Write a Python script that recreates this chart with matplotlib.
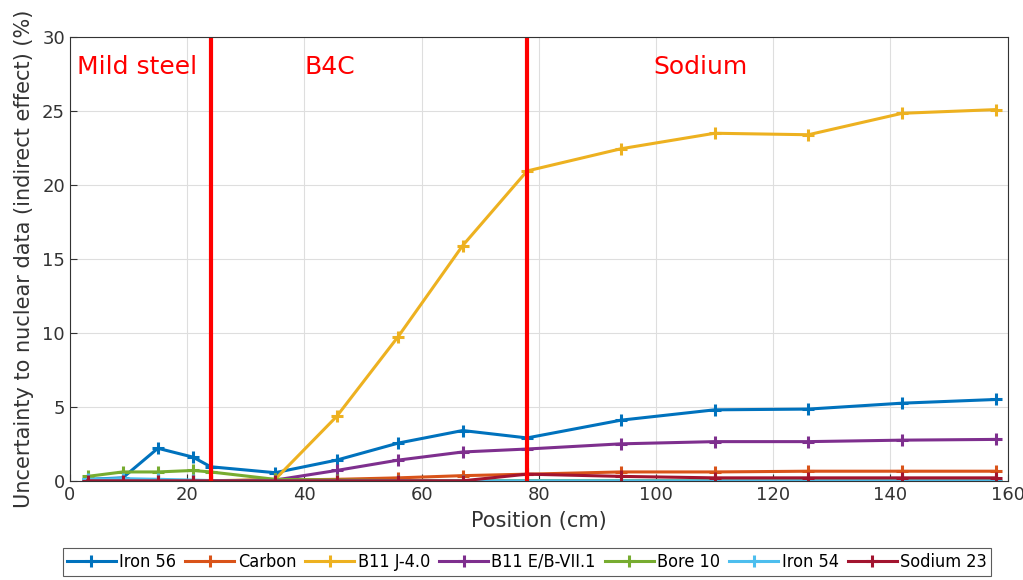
import matplotlib.pyplot as plt

position = [3, 9, 15, 21, 24, 35, 45.5, 56, 67, 78, 94, 110, 126, 142, 158]

iron56 = [0.1, 0.2, 2.2, 1.6, 0.95, 0.55, 1.4, 2.55, 3.4, 2.9, 4.1, 4.8, 4.85, 5.25, 5.5]
carbon = [0.0, 0.0, 0.0, 0.0, 0.0, 0.05, 0.1, 0.2, 0.35, 0.45, 0.6, 0.6, 0.65, 0.65, 0.65]
b11_j40 = [0.0, 0.0, 0.0, 0.0, 0.0, 0.1, 4.35, 9.75, 15.9, 20.95, 22.45, 23.5, 23.4, 24.85, 25.1]
b11_endf = [0.0, 0.0, 0.0, 0.0, 0.0, 0.05, 0.7, 1.4, 1.95, 2.15, 2.5, 2.65, 2.65, 2.75, 2.8]
bore10 = [0.3, 0.6, 0.6, 0.7, 0.6, 0.1, 0.05, 0.02, 0.02, 0.02, 0.02, 0.02, 0.02, 0.02, 0.02]
iron54 = [0.1, 0.15, 0.1, 0.05, 0.02, 0.0, 0.0, 0.0, 0.0, 0.0, 0.0, 0.0, 0.0, 0.0, 0.0]
sodium23 = [0.0, 0.0, 0.0, 0.0, 0.0, 0.0, 0.0, 0.0, 0.0, 0.45, 0.3, 0.2, 0.2, 0.2, 0.2]

series = [
    ("Iron 56", iron56, "#0072bd"),
    ("Carbon", carbon, "#d95319"),
    ("B11 J-4.0", b11_j40, "#edb120"),
    ("B11 E/B-VII.1", b11_endf, "#7e2f8e"),
    ("Bore 10", bore10, "#77ac30"),
    ("Iron 54", iron54, "#4dbeee"),
    ("Sodium 23", sodium23, "#a2142f"),
]

boundaries = [24, 78]
zone_labels = [("Mild steel", 1.2), ("B4C", 40.1), ("Sodium", 99.5)]

fig = plt.figure(figsize=(10.23, 5.8), dpi=100)
ax = fig.add_axes([0.0684, 0.171, 0.9166, 0.765])

for name, vals, col in series:
    ax.plot(position, vals, color=col, marker="+", markersize=9, markeredgewidth=2.2,
            linewidth=2.2, label=name)

for b in boundaries:
    ax.plot([b, b], [0, 30], color="red", linewidth=3)

for txt, xpos in zone_labels:
    ax.text(xpos, 28.0, txt, color="red", fontsize=18, va="center", ha="left")

ax.set_xlim(0, 160)
ax.set_ylim(0, 30)
ax.set_xticks(range(0, 161, 20))
ax.set_yticks(range(0, 31, 5))
ax.tick_params(direction="in", labelsize=13, length=5, color="#333333", labelcolor="#333333")
ax.grid(True, color="#dedede", linewidth=0.8)
ax.set_axisbelow(True)
for sp in ax.spines.values():
    sp.set_color("#333333")
    sp.set_linewidth(0.8)
ax.set_xlabel("Position (cm)", fontsize=15, color="#333333", labelpad=5)
ax.set_ylabel("Uncertainty to nuclear data (indirect effect) (%)", fontsize=15,
              color="#333333", labelpad=6)

handles, labels = ax.get_legend_handles_labels()
leg = fig.legend(handles, labels, loc="center", bbox_to_anchor=(527 / 1023, 1 - 562 / 580),
                 ncol=7, prop={"family": "DejaVu Sans", "stretch": "condensed", "size": 13},
                 frameon=True, fancybox=False, edgecolor="#333333",
                 handlelength=2.7, handletextpad=0.2, columnspacing=0.5,
                 borderpad=0.25)
leg.get_frame().set_linewidth(0.8)

fig.savefig("out.png", dpi=100)
